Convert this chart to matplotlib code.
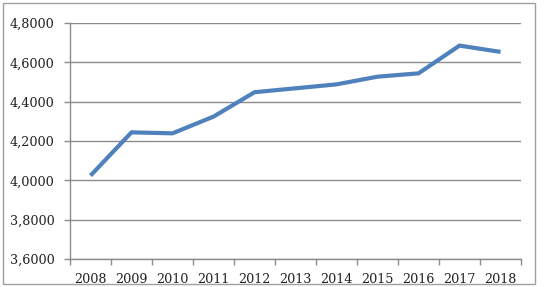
import matplotlib
matplotlib.use("Agg")
import matplotlib.pyplot as plt
import numpy as np
from matplotlib.patches import Rectangle

years = ["2008", "2009", "2010", "2011", "2012", "2013", "2014", "2015", "2016", "2017", "2018"]
values = [4.024, 4.244, 4.239, 4.324, 4.448, 4.468, 4.488, 4.527, 4.544, 4.685, 4.653]
yticks = [3.6, 3.8, 4.0, 4.2, 4.4, 4.6, 4.8]

plt.rcParams['font.family'] = ['DejaVu Serif']

fig = plt.figure(figsize=(5.44, 2.87), dpi=100)
ax = fig.add_axes([70/544, 1-259/287, (521-70)/544, (259-23)/287])

x = np.arange(len(years))
ax.plot(x, values, color="#4F81BD", lw=3.0, solid_capstyle="butt", solid_joinstyle="miter", zorder=3)

ax.set_xlim(-0.5, len(years) - 0.5)
ax.set_ylim(3.6, 4.8)
ax.set_yticks(yticks)
ax.set_yticklabels([f"{v:.4f}".replace(".", ",") for v in yticks], fontsize=9.2, color="#222222")
ax.yaxis.grid(True, color="#8c8c8c", lw=1.0)
ax.set_axisbelow(True)

ax.set_xticks(np.arange(-0.5, len(years)), minor=False)
ax.set_xticklabels([])
ax.set_xticks(x, minor=True)
ax.set_xticklabels(years, minor=True, fontsize=9.2, color="#222222")
ax.tick_params(axis="x", which="major", length=4, color="#8c8c8c", width=1.0)
ax.tick_params(axis="x", which="minor", length=0, pad=10)
ax.tick_params(axis="y", length=4, color="#8c8c8c", width=1.0, pad=7)

for s in ["top", "right"]:
    ax.spines[s].set_visible(False)
for s in ["left", "bottom"]:
    ax.spines[s].set_color("#8c8c8c")
    ax.spines[s].set_linewidth(1.0)

fig.patches.append(Rectangle((3/544, 3/287), 532/544, 281/287, transform=fig.transFigure,
                             fill=False, edgecolor="#a0a0a0", lw=1.0))

fig.savefig("out.png", dpi=100)
